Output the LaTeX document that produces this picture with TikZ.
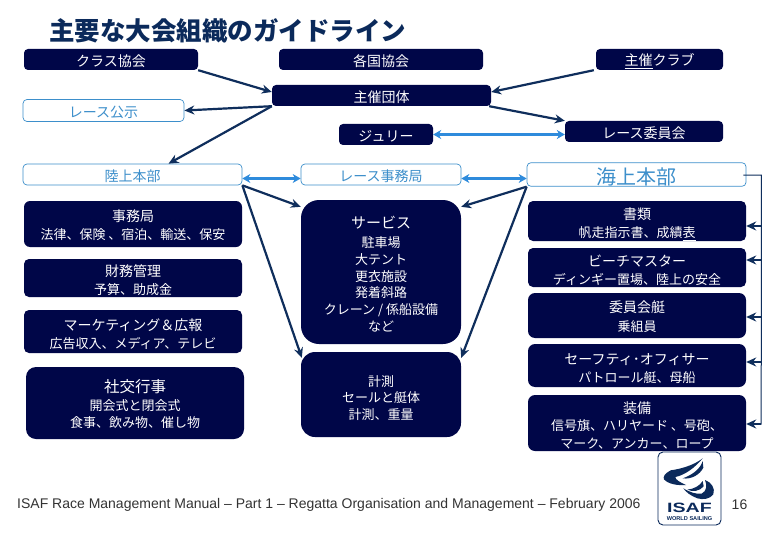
\documentclass[tikz,border=0pt]{standalone}
\usepackage{fontspec}
\setmainfont{Noto Sans CJK JP}
\newfontfamily\latinf{Liberation Sans}
\usetikzlibrary{arrows.meta,calc}
\definecolor{navy}{HTML}{000648}
\definecolor{titlec}{HTML}{0B2A5B}
\definecolor{linec}{HTML}{0F2E5C}
\definecolor{lblue}{HTML}{3D8FCB}
\definecolor{arrblue}{HTML}{2E8BDC}
\newcommand{\fs}[2]{\fontsize{#1}{#2}\selectfont}
\newcommand{\hd}[1]{\fontsize{14}{14}\selectfont\rule{0pt}{#1pt}}
\newcommand{\ls}{\rule{0pt}{15pt}}
\tikzset{
  x=1pt,y=-1pt,
  darkbox/.style={fill=navy,text=white,draw=none,rounded corners=4pt,inner sep=0pt,align=center,font=\fs{14}{17}},
  subbox/.style={fill=navy,text=white,draw=none,inner sep=0pt,align=center,font=\fs{13}{#1}},
  lightbox/.style={fill=white,text=lblue,draw=lblue,line width=0.7pt,rounded corners=4pt,inner sep=0pt,align=center,font=\fs{14}{19}},
  conn/.style={draw=linec,line width=2.2pt,-{Stealth[length=10pt,width=9pt]}},
  twoway/.style={draw=arrblue,line width=2.2pt,{Stealth[length=8pt,width=9pt]}-{Stealth[length=8pt,width=9pt]}},
  busline/.style={draw=linec,line width=1pt},
  sail/.style={fill=titlec,draw=none}
}
\begin{document}
\begin{tikzpicture}
\useasboundingbox (0,0) rectangle (783,540);
\fill[white] (0,0) rectangle (783,540);
\node[text=titlec,font=\bfseries\fs{25.5}{30},inner sep=0pt] (title) at (227.5,31) {主要な大会組織のガイドライン};

\node[darkbox,minimum width=174pt,minimum height=21pt] (klass) at (111,59.5) {\ls クラス協会};
\node[darkbox,minimum width=204pt,minimum height=21pt] (mna) at (381,59.5) {\ls 各国協会};
\node[darkbox,minimum width=127pt,minimum height=21pt] (club) at (659.5,59.5) {\ls\underline{主催}クラブ};
\node[darkbox,minimum width=219pt,minimum height=21pt] (org) at (381.5,95.5) {\ls 主催団体};
\node[lightbox,minimum width=161pt,minimum height=22pt] (nor) at (103.5,110.5) {\ls レース公示};
\node[darkbox,minimum width=94pt,minimum height=21pt] (jury) at (386,134.5) {\ls ジュリー};
\node[darkbox,minimum width=158pt,minimum height=21pt] (rc) at (644,131.5) {\ls レース委員会};
\node[lightbox,minimum width=219pt,minimum height=21pt] (shore) at (132.5,174.5) {\ls 陸上本部};
\node[lightbox,minimum width=160pt,minimum height=21pt] (office) at (381,174.5) {\ls レース事務局};
\node[lightbox,minimum width=219pt,minimum height=21pt,font=\fs{20}{22}] (sea) at (636.5,174.5) {\rule{0pt}{22pt}海上本部};

\node[subbox=18,rounded corners=6pt,minimum width=218pt,minimum height=46pt] (sec) at (133,224) {\hd{15}事務局\\法律、保険 、宿泊、輸送、保安};
\node[subbox=18,rounded corners=5pt,minimum width=218pt,minimum height=38pt] (fin) at (133,278) {\hd{16.3}財務管理\\予算、助成金};
\node[subbox=18,rounded corners=5pt,minimum width=218pt,minimum height=43pt] (mkt) at (133,331.5) {\hd{16.3}マーケティング＆広報\\広告収入、メディア、テレビ};
\node[subbox=17.5,rounded corners=10pt,minimum width=218pt,minimum height=72pt] (soc) at (135,403) {\fontsize{15.5}{15.5}\selectfont\rule{0pt}{16pt}社交行事\\開会式と閉会式\\食事、飲み物、催し物};

\node[subbox=16.8,rounded corners=18pt,minimum width=160pt,minimum height=144pt] (svc) at (381,272) {\fontsize{15}{15}\selectfont\rule{0pt}{17pt}サービス\\[2pt]駐車場\\大テント\\更衣施設\\発着斜路\\クレーン / 係船設備\\など};
\node[subbox=16.5,rounded corners=14pt,minimum width=160pt,minimum height=85pt] (meas) at (381,394.5) {\rule{0pt}{18pt}計測\\セールと艇体\\計測、重量};

\node[subbox=18,rounded corners=5pt,minimum width=218pt,minimum height=40pt] (doc) at (637,221) {\hd{18.5}書類\\帆走指示書、成績\underline{表}};
\node[subbox=18,rounded corners=5pt,minimum width=218pt,minimum height=39pt] (beach) at (637,267.5) {\hd{16.3}ビーチマスター\\ディンギー置場、陸上の安全};
\node[subbox=19,rounded corners=7pt,minimum width=218pt,minimum height=45pt] (boat) at (637,315.5) {\hd{14.3}委員会艇\\乗組員};
\node[subbox=18,rounded corners=7pt,minimum width=218pt,minimum height=43pt] (safety) at (637,365.5) {\hd{16.3}セーフティ･オフィサー\\パトロール艇、母船};
\node[subbox=17.5,rounded corners=7pt,minimum width=218pt,minimum height=56pt] (equip) at (637,423) {\hd{16.3}装備\\信号旗、ハリヤード 、号砲、\\マーク、アンカー、ロープ};

% connectors
\draw[conn] (klass.south east) -- ($(org.west)+(0,-3.5)$);
\draw[conn] ($(club.south west)+(-2,0)$) -- ($(org.east)+(0,-3.5)$);
\draw[conn] ($(org.south east)+(-2,0)$) -- (rc.north west);
\draw[conn] (org.south west) -- (nor.east);
\draw[conn] (org.south west) -- ($(shore.north)+(36,0)$);
\draw[twoway] (jury.east) -- (jury.east -| rc.west);
\draw[twoway] ($(shore.east)+(0,4)$) -- ($(office.west)+(0,4)$);
\draw[twoway] ($(office.east)+(0,4)$) -- ($(sea.west)+(0,4)$);
\draw[conn] (shore.south east) -- ($(svc.north west)+(0,7)$);
\draw[conn] (shore.south east) -- ($(meas.north west)+(1,6)$);
\draw[conn] (sea.south west) -- ($(svc.north east)+(0,7)$);
\draw[conn] (sea.south west) -- ($(meas.north east)+(0,6)$);

% bus on the right
\coordinate (busa) at ($(sea.east)+(-3,0.5)$);
\coordinate (busb) at ($(sea.east)+(15,0.5)$);
\coordinate (busc) at ($(equip.east)+(15,1.5)$);
\draw[busline] (busa) -- (busb) -- (busc);
\draw[conn] ($(doc.east)+(15,5)$) -- ($(doc.east)+(0,5)$);
\draw[conn] ($(beach.east)+(15,-7.5)$) -- ($(beach.east)+(0,-7.5)$);
\draw[conn] ($(boat.east)+(15,1.5)$) -- ($(boat.east)+(0,1.5)$);
\draw[conn] ($(safety.east)+(15,-3.5)$) -- ($(safety.east)+(0,-3.5)$);
\draw[conn] ($(equip.east)+(15,1)$) -- ($(equip.east)+(0,1)$);

% footer
\node[anchor=west,inner sep=0pt,text=black!80,font=\latinf\fs{14}{15}] (foot) at (17,505) {ISAF Race Management Manual – Part 1 – Regatta Organisation and Management – February 2006};
\node[inner sep=0pt,text=black!80,font=\latinf\fs{14}{15}] (page) at (739.5,505) {16};

% logo
\node[draw=titlec,line width=0.9pt,rounded corners=5pt,minimum width=63pt,minimum height=73pt,inner sep=0pt] (logo) at (689.5,488.5) {};
\begin{scope}[shift={(650,445)},x=0.3333pt,y=-0.3333pt]
\fill[sail] (158,40) .. controls (130,62) and (90,72) .. (62,76) .. controls (45,85) and (38,95) .. (42,103)
  .. controls (55,118) and (85,122) .. (108,120) .. controls (90,112) and (76,104) .. (76,96) .. controls (105,90) and (135,68) .. (158,40) -- cycle;
\fill[sail] (158,48) .. controls (152,70) and (128,90) .. (98,100) .. controls (125,104) and (150,88) .. (160,68) -- cycle;
\fill[sail] (165,105) .. controls (185,112) and (196,130) .. (190,148) .. controls (180,162) and (160,165) .. (142,160)
  .. controls (122,152) and (108,142) .. (100,130) .. controls (120,142) and (138,148) .. (155,146) .. controls (170,138) and (172,122) .. (165,105) -- cycle;
\fill[sail] (158,108) .. controls (150,122) and (132,132) .. (112,134) .. controls (128,142) and (150,138) .. (161,124) -- cycle;
\end{scope}
\node[inner sep=0pt,text=titlec,xscale=1.45,font=\latinf\bfseries\fs{13.5}{14}] (isaf) at (689.5,508) {ISAF};
\node[inner sep=0pt,text=titlec,font=\latinf\bfseries\fs{5.6}{6}] (ws) at (689.5,518.5) {WORLD SAILING};
\end{tikzpicture}
\end{document}
